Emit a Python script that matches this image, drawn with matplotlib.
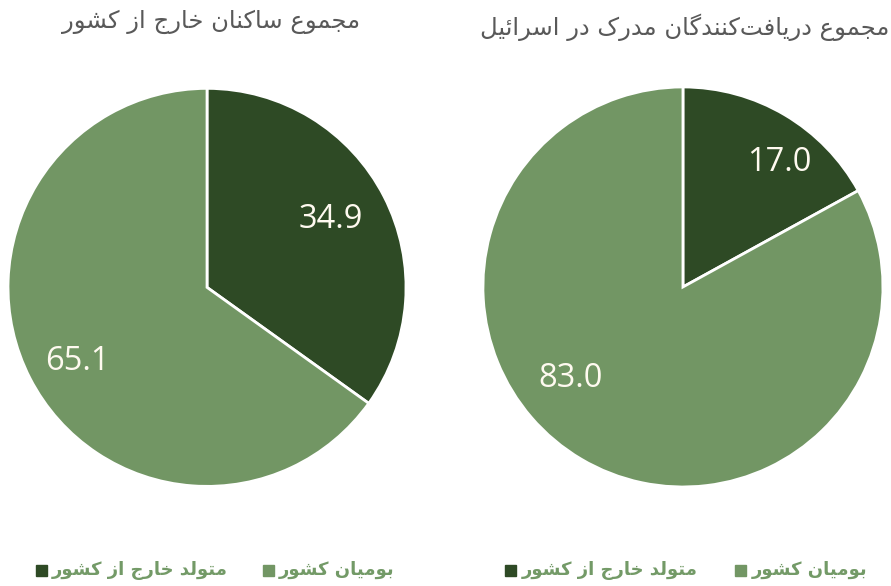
import matplotlib
matplotlib.use("Agg")
import matplotlib.pyplot as plt
from matplotlib.patches import Rectangle

# --- data ---
titles = ["مجموع ساکنان خارج از کشور", "مجموع دریافت\u200cکنندگان مدرک در اسرائیل"]
categories = ["متولد خارج از کشور", "بومیان کشور"]
foreign_born = [34.9, 17.0]
native_born = [65.1, 83.0]

DARK = "#2e4a25"
LIGHT = "#729664"
LABEL_COL = "#fffaf0"
TITLE_COL = "#595959"

# presentation forms: isolated, final, initial, medial (None = right-joining only)
FORMS = {
    "ا": ("\uFE8D", "\uFE8E", None, None),
    "ب": ("\uFE8F", "\uFE90", "\uFE91", "\uFE92"),
    "ت": ("\uFE95", "\uFE96", "\uFE97", "\uFE98"),
    "ج": ("\uFE9D", "\uFE9E", "\uFE9F", "\uFEA0"),
    "خ": ("\uFEA5", "\uFEA6", "\uFEA7", "\uFEA8"),
    "د": ("\uFEA9", "\uFEAA", None, None),
    "ر": ("\uFEAD", "\uFEAE", None, None),
    "ز": ("\uFEAF", "\uFEB0", None, None),
    "س": ("\uFEB1", "\uFEB2", "\uFEB3", "\uFEB4"),
    "ش": ("\uFEB5", "\uFEB6", "\uFEB7", "\uFEB8"),
    "ع": ("\uFEC9", "\uFECA", "\uFECB", "\uFECC"),
    "ف": ("\uFED1", "\uFED2", "\uFED3", "\uFED4"),
    "ل": ("\uFEDD", "\uFEDE", "\uFEDF", "\uFEE0"),
    "م": ("\uFEE1", "\uFEE2", "\uFEE3", "\uFEE4"),
    "ن": ("\uFEE5", "\uFEE6", "\uFEE7", "\uFEE8"),
    "و": ("\uFEED", "\uFEEE", None, None),
    "ئ": ("\uFE89", "\uFE8A", "\uFE8B", "\uFE8C"),
    "ک": ("\uFB8E", "\uFB8F", "\uFB90", "\uFB91"),
    "گ": ("\uFB92", "\uFB93", "\uFB94", "\uFB95"),
    "ی": ("\uFBFC", "\uFBFD", "\uFBFE", "\uFBFF"),
}


def shape(text):
    # join Persian letters into presentation forms, then flip to visual order
    out = []
    n = len(text)
    for i, c in enumerate(text):
        if c not in FORMS:
            if c != "\u200c":
                out.append(c)
            continue
        prev = text[i - 1] if i > 0 else ""
        nxt = text[i + 1] if i + 1 < n else ""
        join_prev = prev in FORMS and FORMS[prev][2] is not None
        join_next = FORMS[c][2] is not None and nxt in FORMS
        iso, fin, ini, med = FORMS[c]
        if join_prev and join_next:
            out.append(med)
        elif join_prev:
            out.append(fin)
        elif join_next:
            out.append(ini)
        else:
            out.append(iso)
    return "".join(reversed(out))


fig = plt.figure(figsize=(8.91, 5.86), dpi=100)

# pie axes: [left, bottom, width, height] in figure fractions
axes_rects = [[0.0090, 0.1700, 0.4467, 0.6792], [0.5420, 0.1690, 0.4490, 0.6826]]
# label positions as fractions of the radius (x right, y up), per pie: [dark, light]
label_pos = [[(0.62, 0.34), (-0.65, -0.37)], [(0.48, 0.62), (-0.56, -0.46)]]
title_xy = [(0.237, 0.962), (0.769, 0.953)]

for k in range(2):
    ax = fig.add_axes(axes_rects[k])
    wedges, texts, autotexts = ax.pie(
        [foreign_born[k], native_born[k]],
        colors=[DARK, LIGHT],
        startangle=90,
        counterclock=False,
        autopct="%.1f",
        wedgeprops=dict(edgecolor="white", linewidth=2),
        textprops=dict(color=LABEL_COL, fontsize=23.5, family="Open Sans"),
    )
    for t, pos in zip(autotexts, label_pos[k]):
        t.set_position(pos)
    ax.set_xlim(-1.0, 1.0)
    ax.set_ylim(-1.0, 1.0)
    ax.set_aspect("equal")
    fig.text(title_xy[k][0], title_xy[k][1], shape(titles[k]), ha="center", va="center",
             fontsize=17.5, color=TITLE_COL, family="DejaVu Sans")

# legends (RTL order: light entry on the right)
leg_y = 0.027
leg_entries = [
    [(0.040, DARK, categories[0]), (0.295, LIGHT, categories[1])],
    [(0.567, DARK, categories[0]), (0.825, LIGHT, categories[1])],
]
sq_w = 11 / 891
sq_h = 11 / 586
for entries in leg_entries:
    for x, col, lab in entries:
        fig.patches.append(Rectangle((x, leg_y - sq_h / 2), sq_w, sq_h, color=col,
                                     transform=fig.transFigure, figure=fig))
        fig.text(x + sq_w + 0.006, leg_y, shape(lab), ha="left", va="center",
                 fontsize=13, fontweight="bold", color="#739a67", family="DejaVu Sans")

fig.savefig("out.png", dpi=100)
